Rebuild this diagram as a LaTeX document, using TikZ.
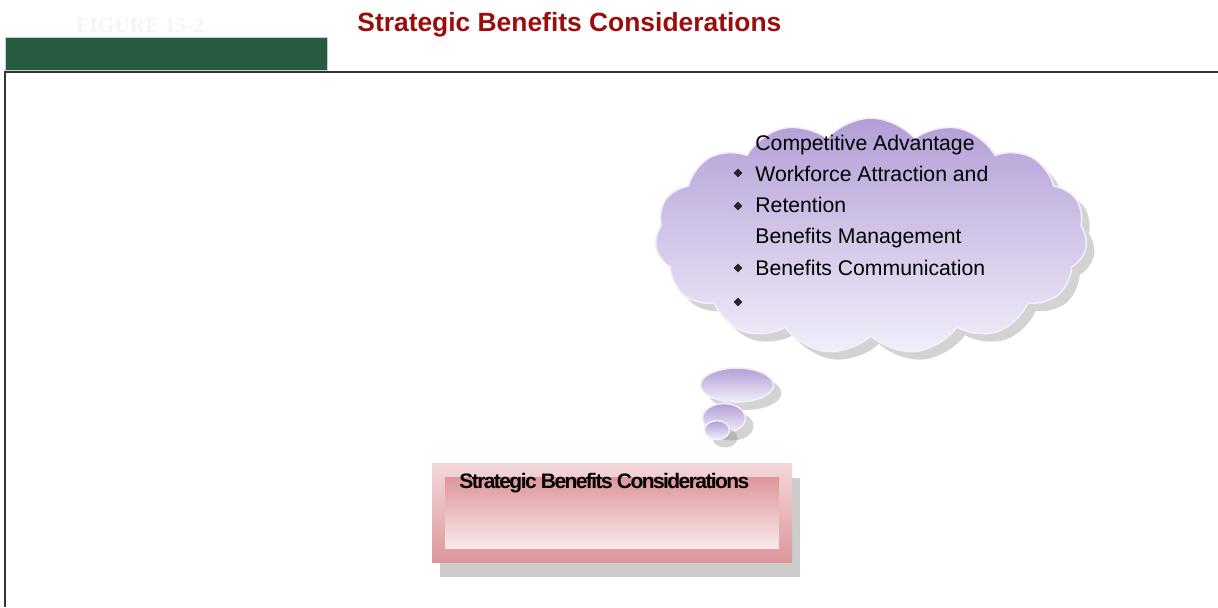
\documentclass[tikz,border=0pt]{standalone}
\usepackage{fontspec}
\setmainfont{Liberation Sans}
\newfontfamily\figfont{Liberation Serif}
\newfontfamily\tightfont[LetterSpace=-7.5]{Liberation Sans}
\usetikzlibrary{shapes.symbols, shapes.geometric, shadows}
\definecolor{barGreen}{RGB}{39,92,64}
\definecolor{titleRed}{RGB}{155,12,12}
\definecolor{puffTop}{RGB}{178,158,214}
\definecolor{puffBot}{RGB}{242,238,250}
\definecolor{boxDark}{RGB}{221,150,154}
\definecolor{boxLight}{RGB}{249,232,234}

\begin{document}
\begin{tikzpicture}[x=0.5pt, y=-0.5pt,
  puff/.style={top color=puffTop, bottom color=puffBot, draw=puffBot, line width=0.8pt,
    drop shadow={shadow xshift=4pt, shadow yshift=-4pt, opacity=0.35}},
  item/.style={anchor=base west, inner sep=0, font=\fontsize{10.6}{12}\selectfont},
  dot/.style={diamond, fill=black!85, inner sep=0, minimum size=4.6pt}]
\useasboundingbox (0,0) rectangle (1218,607);

% heading
\node[anchor=base west, inner sep=0, text=black!4, font=\figfont\bfseries\fontsize{10.7}{12}\selectfont] (fig) at (76,32) {FIGURE 15-2};
\node[anchor=base west, inner sep=0, text=titleRed, font=\bfseries\fontsize{13.2}{15}\selectfont] (title) at (357,31) {Strategic Benefits Considerations};
\filldraw[fill=barGreen, draw=gray!40, line width=0.4pt] (5,37) rectangle (327,70);
\draw[line width=1pt, black!80] (5,607) -- (5,72) -- (1218,72);

% thought cloud
\node[puff, cloud, cloud puffs=15, cloud puff arc=100, minimum width=216pt, minimum height=118pt] (cloud) at (871,236) {};
\node[puff, ellipse, minimum width=36.5pt, minimum height=17pt] (bubA) at (737,385) {};
\node[puff, ellipse, minimum width=21.5pt, minimum height=14.5pt] (bubB) at (724,418) {};
\node[puff, ellipse, minimum width=12.5pt, minimum height=7.5pt] (bubC) at (717,430) {};

\node[item] (l1) at (755,150) {Competitive Advantage};
\node[item] (l2) at (755,181) {Workforce Attraction and};
\node[item] (l3) at (755,212) {Retention};
\node[item] (l4) at (755,243) {Benefits Management};
\node[item] (l5) at (755,275) {Benefits Communication};
\node[dot] (d1) at (738,173) {};
\node[dot] (d2) at (738,206) {};
\node[dot] (d3) at (738,268) {};
\node[dot] (d4) at (738,302) {};

% considerations box
\node[top color=boxLight!80!boxDark, bottom color=boxDark, minimum width=180pt, minimum height=49.5pt,
  drop shadow={shadow xshift=4pt, shadow yshift=-7pt, opacity=0.4}] (box) at (612,513) {};
\node[top color=boxDark, bottom color=boxLight, minimum width=167pt, minimum height=35.5pt] (boxIn) at (612,512.5) {};
\node[anchor=base west, inner sep=0, font=\tightfont\bfseries\fontsize{10.5}{12}\selectfont] (boxText) at (459,488) {Strategic Benefits Considerations};
\end{tikzpicture}
\end{document}
